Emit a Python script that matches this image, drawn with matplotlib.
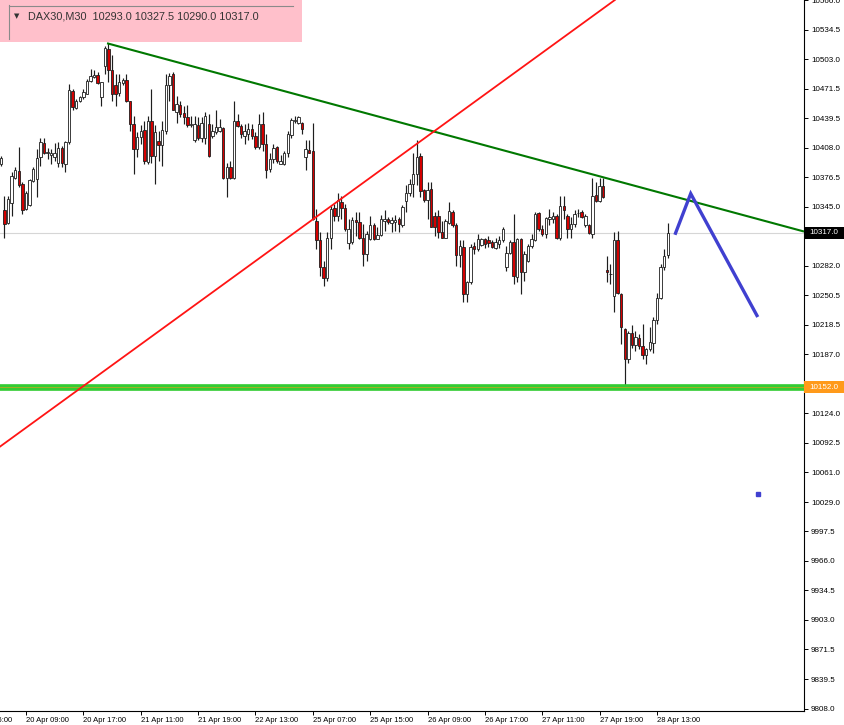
import matplotlib
matplotlib.use('Agg')
import matplotlib.pyplot as plt
import numpy as np
from matplotlib.patches import Rectangle
from matplotlib.lines import Line2D
from matplotlib.transforms import blended_transform_factory

plt.rcParams['font.family'] = ['Liberation Sans', 'DejaVu Sans']

# ---------------- data (M30 candles, DAX30) ----------------
opens = [
    10391, 10341, 10328, 10349, 10376, 10383, 10369, 10343, 10347, 10373,
    10375, 10398, 10413, 10402, 10400, 10398, 10392, 10408, 10391, 10414,
    10469, 10451, 10458, 10462, 10466, 10479, 10484, 10486, 10462, 10496,
    10514, 10491, 10475, 10467, 10477, 10481, 10458, 10434, 10407, 10420,
    10427, 10393, 10437, 10399, 10415, 10411, 10426, 10475, 10487, 10446,
    10454, 10445, 10441, 10432, 10416, 10432, 10418, 10419, 10434, 10421,
    10425, 10426, 10429, 10376, 10387, 10376, 10437, 10431, 10421, 10423,
    10428, 10421, 10409, 10434, 10412, 10385, 10396, 10409, 10391, 10391,
    10402, 10422, 10437, 10435, 10435, 10398, 10406, 10405, 10330, 10309,
    10280, 10269, 10312, 10344, 10335, 10350, 10344, 10306, 10307, 10331,
    10329, 10312, 10294, 10310, 10325, 10310, 10315, 10330, 10332, 10328,
    10329, 10332, 10325, 10351, 10360, 10369, 10380, 10399, 10363, 10352,
    10364, 10335, 10335, 10318, 10312, 10328, 10339, 10325, 10293, 10302,
    10252, 10264, 10303, 10300, 10304, 10310, 10309, 10307, 10301, 10305,
    10309, 10280, 10296, 10307, 10270, 10310, 10275, 10287, 10303, 10309,
    10338, 10321, 10316, 10332, 10332, 10335, 10311, 10346, 10335, 10321,
    10326, 10338, 10339, 10325, 10325, 10316, 10358, 10351, 10367, 10277,
    10273, 10250, 10309, 10252, 10214, 10182, 10210, 10197, 10205, 10196,
    10186, 10193, 10199, 10224, 10247, 10280, 10293.0]
highs = [
    10399, 10357, 10357, 10382, 10388, 10409, 10371, 10362, 10375, 10387,
    10407, 10419, 10418, 10408, 10407, 10413, 10414, 10410, 10415, 10476,
    10471, 10460, 10464, 10471, 10482, 10492, 10491, 10489, 10478, 10517,
    10520, 10507, 10487, 10487, 10483, 10487, 10458.5, 10442, 10425, 10432,
    10437, 10442, 10471, 10432, 10426, 10437, 10487, 10488, 10489, 10464,
    10458, 10453, 10454, 10442, 10442, 10441, 10441, 10446, 10444, 10434,
    10448, 10439, 10430, 10392, 10394, 10458, 10444, 10434, 10434, 10435,
    10434, 10425, 10444, 10446, 10423, 10403, 10412, 10410, 10400, 10405,
    10426, 10440, 10442, 10442, 10436, 10416, 10416, 10435, 10343, 10318,
    10287, 10318, 10346, 10348, 10360, 10356, 10348, 10332, 10334, 10339,
    10339, 10327, 10319, 10335, 10328, 10323, 10336, 10341, 10334, 10334,
    10336, 10334, 10347, 10368, 10375, 10403, 10416, 10403, 10364, 10371,
    10371, 10339, 10341, 10330, 10332, 10350, 10341, 10328, 10309, 10309,
    10266, 10305, 10307, 10316, 10312, 10312, 10314, 10309, 10312, 10314,
    10323, 10303, 10309, 10337, 10312, 10312, 10298, 10305, 10316, 10339,
    10339, 10325, 10334, 10343, 10339, 10337, 10357, 10357, 10337, 10334,
    10341, 10343, 10341, 10337, 10327, 10376, 10371, 10376, 10376, 10292,
    10284, 10318, 10319, 10253, 10215, 10212, 10218, 10212, 10209, 10220,
    10194, 10216, 10227, 10253, 10284, 10300, 10327.5]
lows = [
    10389, 10312, 10326, 10335, 10375, 10366, 10337, 10341, 10346, 10371,
    10355, 10389, 10401, 10396, 10391, 10394, 10387, 10388, 10382, 10412,
    10448, 10450, 10457, 10460, 10466, 10478, 10483, 10476, 10453, 10487,
    10478, 10458, 10453, 10464, 10475, 10457, 10426, 10380, 10398, 10412,
    10391, 10391, 10392, 10369, 10394, 10389, 10423, 10458, 10448, 10435,
    10441, 10434, 10430, 10430, 10414, 10416, 10414, 10412, 10398, 10418,
    10423, 10425, 10375, 10355, 10375, 10375, 10430, 10419, 10412, 10416,
    10417, 10407, 10407, 10405, 10376, 10382, 10392, 10392, 10391, 10390,
    10398, 10419, 10435, 10434, 10423, 10384, 10403, 10331, 10300, 10271,
    10260, 10266, 10300, 10330, 10330, 10332, 10319, 10300, 10305, 10314,
    10310, 10282, 10287, 10309, 10309, 10310, 10314, 10319, 10326, 10318,
    10319, 10318, 10323, 10339, 10357, 10355, 10368, 10355, 10350, 10332,
    10323, 10314, 10312, 10311, 10311, 10327, 10323, 10282, 10280, 10243,
    10243, 10262, 10294, 10298, 10303, 10301, 10302, 10301, 10300, 10301,
    10307, 10276, 10294, 10262, 10264, 10252, 10266, 10286, 10301, 10308,
    10319, 10314, 10312, 10325, 10328, 10310, 10309, 10332, 10311, 10312,
    10323, 10334, 10333, 10323, 10316, 10311, 10350, 10350, 10354, 10264,
    10262, 10232, 10252, 10198, 10152, 10178, 10194, 10191, 10193, 10182,
    10177, 10191, 10189, 10220, 10246, 10277, 10290.0]
closes = [
    10397, 10327, 10353, 10378, 10384, 10368, 10341, 10360, 10374, 10385,
    10397, 10414, 10403, 10404, 10403, 10403, 10408, 10392, 10414, 10470,
    10452, 10458, 10462, 10468, 10480, 10485, 10486, 10477, 10478, 10515,
    10491, 10466, 10466, 10478, 10481, 10458, 10434, 10407, 10420, 10426,
    10394, 10437, 10399, 10425, 10411, 10427, 10475, 10485, 10449, 10455,
    10444, 10441, 10432, 10434, 10434, 10419, 10435, 10442, 10399, 10426,
    10430, 10430, 10376, 10387, 10376, 10437, 10431, 10423, 10426, 10428,
    10421, 10409, 10434, 10412, 10384, 10396, 10408, 10394, 10394, 10402,
    10423, 10438, 10438, 10441, 10428, 10407, 10403, 10332, 10309, 10280,
    10269, 10312, 10343, 10335, 10352, 10344, 10321, 10321, 10331, 10329,
    10312, 10294, 10316, 10325, 10310, 10315, 10332, 10332, 10329, 10331,
    10331, 10326, 10345, 10360, 10369, 10380, 10398, 10362, 10352, 10363,
    10323, 10323, 10318, 10312, 10330, 10340, 10325, 10293, 10303, 10252,
    10264, 10302, 10300, 10310, 10310, 10305, 10306, 10302, 10307, 10309,
    10321, 10296, 10307, 10271, 10310, 10275, 10294, 10303, 10310, 10337,
    10321, 10316, 10333, 10334, 10335, 10311, 10346, 10341, 10321, 10327,
    10337, 10338.5, 10334, 10335, 10316.5, 10357, 10351, 10367.5, 10355, 10275,
    10273, 10309, 10253, 10216, 10182, 10210, 10197, 10206, 10196, 10186,
    10193, 10200, 10224, 10247, 10280, 10292, 10317.0]

time_tick_bars = [-9, 7, 23, 39, 55, 71, 87, 103, 119, 135, 151, 167, 183]
time_tick_labels = ['19 Apr 15:00', '20 Apr 09:00', '20 Apr 17:00', '21 Apr 11:00',
                    '21 Apr 19:00', '22 Apr 13:00', '25 Apr 07:00', '25 Apr 15:00',
                    '26 Apr 09:00', '26 Apr 17:00', '27 Apr 11:00', '27 Apr 19:00',
                    '28 Apr 13:00']
price_ticks = [10566.0, 10534.5, 10503.0, 10471.5, 10439.5, 10408.0, 10376.5, 10345.0,
               10313.5, 10282.0, 10250.5, 10218.5, 10187.0, 10155.5, 10124.0, 10092.5,
               10061.0, 10029.0, 9997.5, 9966.0, 9934.5, 9903.0, 9871.5, 9839.5, 9808.0]

symbol = 'DAX30,M30'
support_level = 10152.0
down_trend_bars = [30, 168]
down_trend_prices = [10519.5, 10376.5]
up_trend_bars = [0, 150]
up_trend_prices = [10089.0, 10507.0]
zigzag_bars = [188.0, 192.4, 211.1]
zigzag_prices = [10315.0, 10359.0, 10227.0]
dot_bars = [211.2]
dot_prices = [10038.0]

# ---------------- figure ----------------
W, H = 845, 725
fig = plt.figure(figsize=(W / 100, H / 100), dpi=100)
fig.patch.set_facecolor('white')
ax = fig.add_axes([0, 14 / H, 804 / W, 711 / H])
ax.set_xlim(-0.25, 224.0)
ax.set_ylim(9805.4, 10566.2)

o = np.array(opens, float)
h = np.array(highs, float)
l = np.array(lows, float)
c = np.array(closes, float)
idx = np.arange(len(o))
up = c >= o

bid = c[-1]
ax.axhline(bid, color='#d6d6d6', lw=0.8, zorder=1)

ax.vlines(idx, l, h, color='#1e1e1e', lw=0.85, zorder=3)
body_bottom = np.minimum(o, c)
body_h = np.abs(c - o)
body_colors = ['white' if u else '#d40000' for u in up]
ax.bar(idx, body_h, bottom=body_bottom, width=0.68, color=body_colors,
       edgecolor='#1e1e1e', linewidth=0.6, zorder=4)

# support line
ax.axhline(support_level, color='#33cc33', lw=4.8, zorder=5)
ax.axhline(support_level, color='#d9a020', lw=0.6, alpha=0.8, zorder=6)

# descending trend line (ray to the right)
slope = (down_trend_prices[1] - down_trend_prices[0]) / (down_trend_bars[1] - down_trend_bars[0])
xs = np.array([29.6, 224.0])
ax.plot(xs, down_trend_prices[0] + slope * (xs - down_trend_bars[0]),
        color='#007800', lw=1.5, zorder=6, solid_capstyle='butt')

# ascending trend line (infinite)
ax.axline((up_trend_bars[0], up_trend_prices[0]), (up_trend_bars[1], up_trend_prices[1]),
          color='#ff1414', lw=1.3, zorder=6)

# blue projection
ax.plot(zigzag_bars, zigzag_prices, color='#4040d0', lw=2.4, zorder=7,
        solid_capstyle='butt', solid_joinstyle='miter')
ax.plot(dot_bars, dot_prices, marker='s', ms=2.2, color='#4040d0', lw=0, zorder=7)

# axes styling
for s in ['top', 'left']:
    ax.spines[s].set_visible(False)
for s in ['right', 'bottom']:
    ax.spines[s].set_color('#000000')
    ax.spines[s].set_linewidth(0.8)

ax.yaxis.tick_right()
ax.set_yticks(price_ticks)
ax.set_yticklabels([f'{v:.1f}' for v in price_ticks])
ax.tick_params(axis='y', direction='out', length=3, width=0.7, pad=2,
               labelsize=5.8, colors='#000000')

vis = [(b, t) for b, t in zip(time_tick_bars, time_tick_labels) if b >= -0.25]
ax.set_xticks([b for b, _ in vis])
ax.set_xticklabels([t for _, t in vis])
ax.tick_params(axis='x', direction='out', length=3, width=0.7, pad=1.5,
               labelsize=5.5, colors='#000000')
for lab in ax.get_xticklabels():
    lab.set_horizontalalignment('left')
# partially visible first label
for b, t in zip(time_tick_bars, time_tick_labels):
    if b < -0.25:
        tr = blended_transform_factory(ax.transData, ax.transAxes)
        ax.text(b, -6.5 / 711, t, transform=tr, fontsize=5.5, ha='left', va='top',
                clip_on=False, color='#000000')

# price labels on the axis
trans = blended_transform_factory(ax.transAxes, ax.transData)
box_h = 13.0
for price, fc in [(bid, '#000000'), (support_level, '#ff9a1a')]:
    ax.add_patch(Rectangle((1.0, price - box_h / 2), 42 / 804, box_h, transform=trans,
                           facecolor=fc, edgecolor='none', clip_on=False, zorder=10))
    ax.text(1.0 + 5 / 804, price, f'{price:.1f}', transform=trans, color='white',
            fontsize=5.8, ha='left', va='center', clip_on=False, zorder=11)

# header box
fig.add_artist(Rectangle((0, 1 - 42 / H), 302 / W, 42 / H, transform=fig.transFigure,
                         facecolor='#ffc0cb', edgecolor='none', zorder=20))
fig.add_artist(Line2D([9.5 / W, 9.5 / W], [1 - 5 / H, 1 - 39 / H], transform=fig.transFigure,
                      color='#8a8a8a', lw=0.8, zorder=21))
fig.add_artist(Line2D([9.5 / W, 293 / W], [1 - 5.5 / H, 1 - 5.5 / H], transform=fig.transFigure,
                      color='#8a8a8a', lw=0.8, zorder=21))
fig.text(14 / W, 1 - 16.5 / H, '\u25bc', fontsize=5, ha='left', va='center',
         color='#333333', zorder=22, family=['DejaVu Sans'])
header = f'{symbol}  {opens[-1]:.1f} {highs[-1]:.1f} {lows[-1]:.1f} {closes[-1]:.1f}'
fig.text(28 / W, 1 - 16.5 / H, header, fontsize=7.8, ha='left', va='center',
         color='#333333', zorder=22)

fig.savefig('out.png', dpi=100, facecolor='white')
